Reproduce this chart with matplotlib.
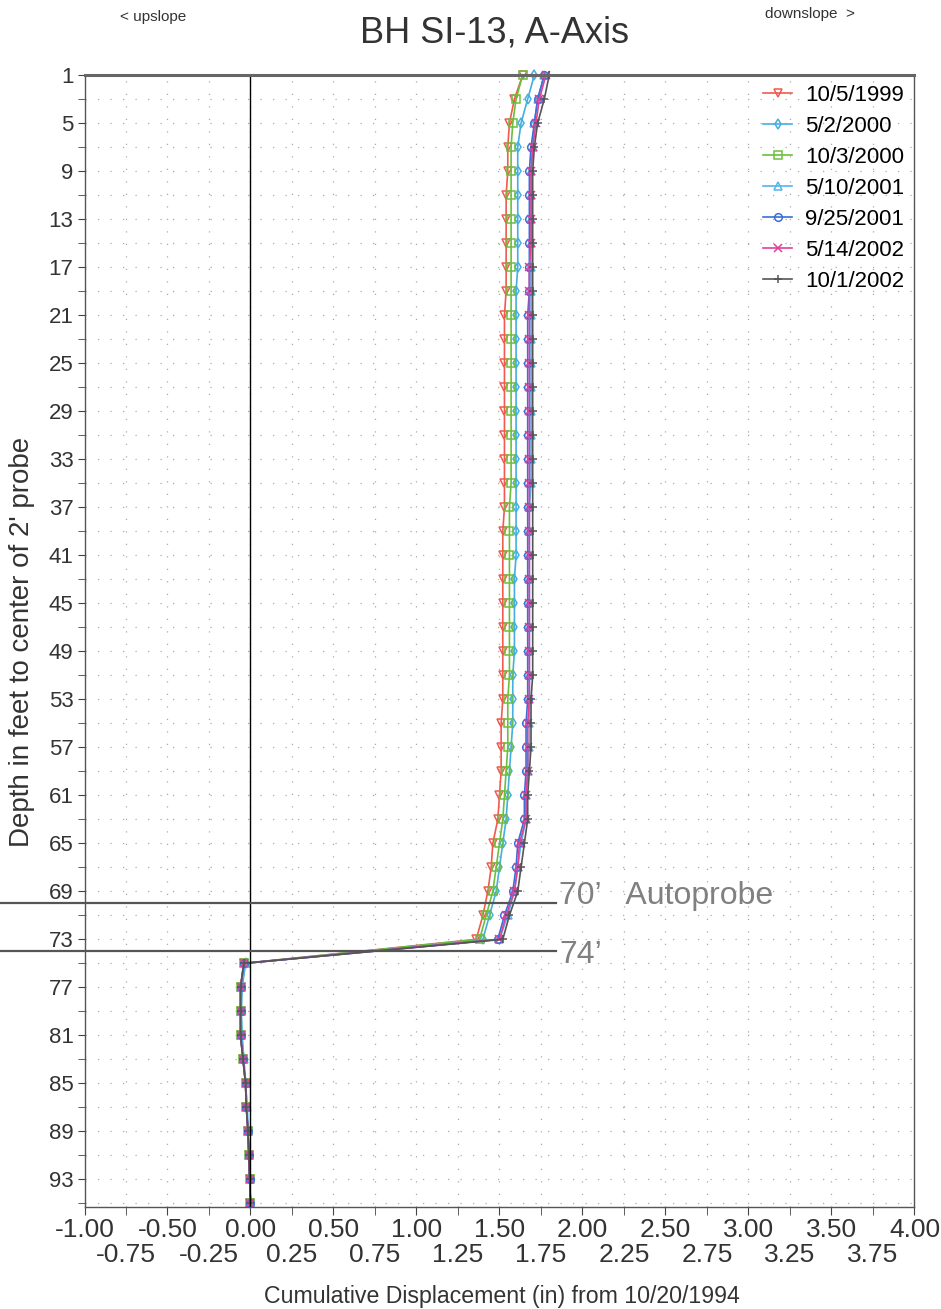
import matplotlib
matplotlib.use("Agg")
import matplotlib.pyplot as plt
from matplotlib.ticker import FixedLocator, FormatStrFormatter, NullFormatter

plt.rcParams["font.family"] = ["Liberation Sans", "DejaVu Sans"]
plt.rcParams["axes.unicode_minus"] = False

# probe depths (ft)
depths = [1, 3, 5, 7, 9, 11, 13, 15, 17, 19,
          21, 23, 25, 27, 29, 31, 33, 35, 37, 39,
          41, 43, 45, 47, 49, 51, 53, 55, 57, 59,
          61, 63, 65, 67, 69, 71, 73,
          75, 77, 79, 81, 83, 85, 87, 89, 91, 93, 95]

# cumulative displacement (in), one list per survey
d_1999_10_05 = [1.64, 1.59, 1.56, 1.55, 1.55, 1.54, 1.54, 1.54, 1.54, 1.54,
                1.53, 1.53, 1.53, 1.53, 1.53, 1.53, 1.53, 1.53, 1.53, 1.52,
                1.52, 1.52, 1.52, 1.52, 1.52, 1.52, 1.52, 1.51, 1.51, 1.51,
                1.50, 1.49, 1.46, 1.45, 1.43, 1.40, 1.36,
                -0.04, -0.06, -0.06, -0.06, -0.045, -0.03, -0.025, -0.015, -0.01, -0.005, 0.0]
d_2000_05_02 = [1.71, 1.67, 1.63, 1.61, 1.61, 1.61, 1.61, 1.61, 1.61, 1.60,
                1.60, 1.60, 1.60, 1.60, 1.60, 1.60, 1.60, 1.60, 1.60, 1.60,
                1.60, 1.59, 1.59, 1.59, 1.59, 1.58, 1.58, 1.58, 1.57, 1.56,
                1.55, 1.54, 1.52, 1.50, 1.48, 1.44, 1.40,
                -0.03, -0.05, -0.055, -0.05, -0.04, -0.03, -0.02, -0.015, -0.01, -0.005, 0.0]
d_2000_10_03 = [1.64, 1.60, 1.58, 1.57, 1.57, 1.57, 1.57, 1.57, 1.57, 1.57,
                1.57, 1.57, 1.57, 1.57, 1.57, 1.57, 1.57, 1.57, 1.56, 1.56,
                1.56, 1.56, 1.56, 1.56, 1.56, 1.56, 1.55, 1.55, 1.55, 1.54,
                1.53, 1.52, 1.50, 1.48, 1.46, 1.42, 1.38,
                -0.04, -0.06, -0.06, -0.06, -0.045, -0.03, -0.025, -0.015, -0.01, -0.005, 0.0]
d_2001_05_10 = [1.77, 1.73, 1.71, 1.70, 1.69, 1.69, 1.69, 1.69, 1.69, 1.69,
                1.69, 1.69, 1.69, 1.69, 1.69, 1.69, 1.69, 1.69, 1.68, 1.68,
                1.68, 1.68, 1.68, 1.68, 1.68, 1.68, 1.68, 1.68, 1.68, 1.67,
                1.66, 1.66, 1.63, 1.61, 1.59, 1.55, 1.50,
                -0.03, -0.055, -0.06, -0.055, -0.04, -0.03, -0.02, -0.015, -0.01, -0.005, 0.0]
d_2001_09_25 = [1.77, 1.73, 1.71, 1.69, 1.68, 1.68, 1.68, 1.68, 1.68, 1.68,
                1.67, 1.67, 1.67, 1.67, 1.67, 1.67, 1.67, 1.67, 1.67, 1.67,
                1.67, 1.67, 1.67, 1.67, 1.67, 1.67, 1.67, 1.66, 1.66, 1.66,
                1.65, 1.65, 1.61, 1.60, 1.58, 1.53, 1.49,
                -0.04, -0.06, -0.06, -0.06, -0.045, -0.03, -0.025, -0.015, -0.01, -0.005, 0.0]
d_2002_05_14 = [1.78, 1.74, 1.72, 1.70, 1.69, 1.69, 1.69, 1.69, 1.68, 1.68,
                1.68, 1.68, 1.68, 1.68, 1.68, 1.68, 1.68, 1.68, 1.68, 1.68,
                1.68, 1.68, 1.68, 1.68, 1.68, 1.68, 1.68, 1.67, 1.67, 1.67,
                1.66, 1.66, 1.62, 1.61, 1.59, 1.54, 1.50,
                -0.04, -0.06, -0.06, -0.06, -0.045, -0.03, -0.025, -0.015, -0.01, -0.005, 0.0]
d_2002_10_01 = [1.80, 1.77, 1.73, 1.71, 1.70, 1.70, 1.70, 1.70, 1.70, 1.70,
                1.70, 1.70, 1.70, 1.70, 1.70, 1.70, 1.70, 1.70, 1.70, 1.70,
                1.70, 1.70, 1.70, 1.70, 1.70, 1.70, 1.69, 1.69, 1.69, 1.68,
                1.67, 1.67, 1.65, 1.63, 1.61, 1.56, 1.52,
                -0.04, -0.06, -0.06, -0.06, -0.045, -0.03, -0.025, -0.015, -0.01, -0.005, 0.0]

survey_labels = ["10/5/1999", "5/2/2000", "10/3/2000", "5/10/2001",
                 "9/25/2001", "5/14/2002", "10/1/2002"]
survey_data = [d_1999_10_05, d_2000_05_02, d_2000_10_03, d_2001_05_10,
               d_2001_09_25, d_2002_05_14, d_2002_10_01]
colors = ["#f05a50", "#45aee0", "#6cbf3c", "#55b4ec", "#3a6fd8", "#e0409c", "#555555"]
markers = ["v", "d", "s", "^", "o", "x", "+"]

y_major = [1, 5, 9, 13, 17, 21, 25, 29, 33, 37, 41, 45, 49, 53, 57, 61, 65, 69, 73, 77, 81, 85, 89, 93]
y_minor = [3, 7, 11, 15, 19, 23, 27, 31, 35, 39, 43, 47, 51, 55, 59, 63, 67, 71, 75, 79, 83, 87, 91, 95]
x_major = [-1.0, -0.5, 0.0, 0.5, 1.0, 1.5, 2.0, 2.5, 3.0, 3.5, 4.0]
x_minor = [-0.75, -0.25, 0.25, 0.75, 1.25, 1.75, 2.25, 2.75, 3.25, 3.75]

fig = plt.figure(figsize=(9.41, 13.09), dpi=100)
ax = fig.add_axes([0.0898, 0.0779, 0.882, 0.8648])

for vals, lab, c, m in zip(survey_data, survey_labels, colors, markers):
    ax.plot(vals, depths, color=c, marker=m, markersize=5.5, markerfacecolor="none",
            markeredgewidth=1.1, linewidth=1.2, label=lab, clip_on=False)

ax.axvline(0, color="black", linewidth=1)

# probe reference lines, running out past the left edge
for d in (70, 74):
    ax.plot([-1.51, 1.84], [d, d], color="#555555", linewidth=1.6, clip_on=False)
ax.text(1.86, 69.4, "70\u2019   Autoprobe", fontsize=23, color="#808080", va="center")
ax.text(1.86, 74.3, "74\u2019", fontsize=23, color="#808080", va="center")

ax.set_xlim(-1, 4)
ax.set_ylim(95.3, 1)

ax.xaxis.set_major_locator(FixedLocator(x_major))
ax.xaxis.set_minor_locator(FixedLocator(x_minor))
ax.xaxis.set_major_formatter(FormatStrFormatter("%.2f"))
ax.xaxis.set_minor_formatter(FormatStrFormatter("%.2f"))
ax.yaxis.set_major_locator(FixedLocator(y_major))
ax.yaxis.set_minor_locator(FixedLocator(y_minor))
ax.yaxis.set_minor_formatter(NullFormatter())

ax.tick_params(axis="x", which="major", labelsize=19, length=6, pad=2, color="#444444", labelcolor="#333333")
ax.tick_params(axis="x", which="minor", labelsize=19, length=6, pad=20, color="#444444", labelcolor="#333333")
ax.tick_params(axis="y", which="both", labelsize=16, length=5, pad=3, color="#444444", labelcolor="#333333")

ax.grid(which="both", linestyle=(0, (1, 9)), color="#aaaaaa", linewidth=0.9)

for side in ("left", "right", "bottom"):
    ax.spines[side].set_color("#555555")
    ax.spines[side].set_linewidth(1.0)
ax.spines["top"].set_color("#666666")
ax.spines["top"].set_linewidth(2.2)

ax.legend(loc="upper right", frameon=False, fontsize=16, handlelength=1.3,
          handletextpad=0.6, labelspacing=0.45, borderaxespad=0.05)

fig.text(0.526, 1 - 33 / 1309, "BH SI-13, A-Axis", fontsize=26, ha="center", va="center", color="#333333")
fig.text(120 / 941, 1 - 17 / 1309, "< upslope", fontsize=11, ha="left", va="center", color="#333333")
fig.text(765 / 941, 1 - 14 / 1309, "downslope  >", fontsize=11, ha="left", va="center", color="#333333")
fig.text(502 / 941, 1 - 1296 / 1309, "Cumulative Displacement (in) from 10/20/1994",
         fontsize=16.7, ha="center", va="center", color="#333333")
fig.text(22 / 941, 0.5095, "Depth in feet to center of 2' probe", fontsize=20, rotation=90,
         ha="center", va="center", color="#333333")

fig.savefig("out.png", dpi=100)
